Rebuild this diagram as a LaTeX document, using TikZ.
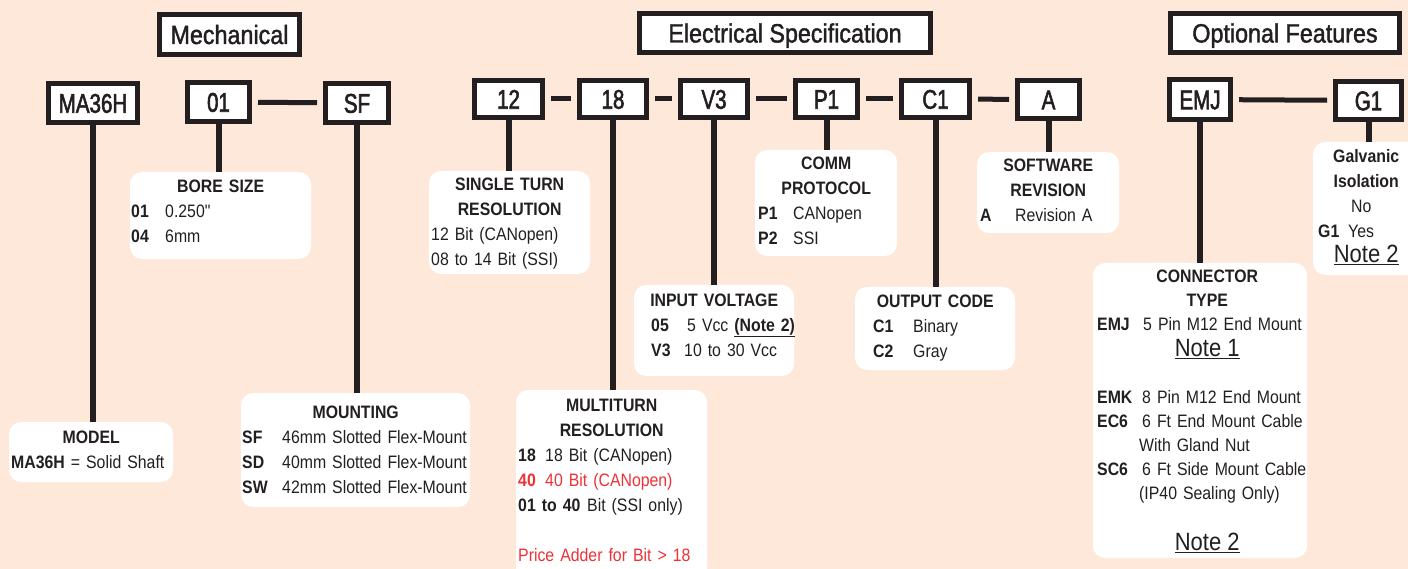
\documentclass[tikz,border=0pt]{standalone}
\usepackage{fontspec}
\setmainfont{Liberation Sans}[FakeStretch=0.88]
\newfontfamily\codefont{Liberation Sans}[FakeStretch=0.76, RawFeature={embolden=2}]
\newfontfamily\headfont{Liberation Sans}[FakeStretch=0.88, RawFeature={embolden=1.5}]
\newfontfamily\plainfont{Liberation Sans}[FakeStretch=0.88]

\definecolor{bg}{RGB}{254,232,218}
\definecolor{ink}{RGB}{35,31,32}
\definecolor{redtxt}{RGB}{237,50,55}

\newcommand\ttl[1]{\makebox[\linewidth]{\bfseries #1}}
\newcommand\itm[3]{\mbox{\makebox[#1][l]{\bfseries #2}#3}}
\newcommand\note[1]{\makebox[\linewidth]{\fontsize{25}{25}\selectfont\underline{#1}}}

\tikzset{
  head/.style={draw=ink, line width=5pt, fill=white, inner sep=0pt,
    text height=19pt, text depth=0pt, font=\headfont\fontsize{26.5}{30}\selectfont},
  code/.style={draw=ink, line width=5pt, fill=white, inner sep=0pt,
    text height=19.5pt, text depth=0pt, font=\codefont\fontsize{27}{30}\selectfont},
  info/.style={fill=white, rounded corners=12pt, inner sep=0pt},
  infotext/.style={anchor=north west, inner sep=0pt, align=left,
    font=\fontsize{18}{25}\selectfont},
  link/.style={draw=ink, line width=6pt},
  joiner/.style={draw=ink, line width=5pt, shorten <=6pt, shorten >=6pt},
}

\begin{document}
\begin{tikzpicture}[x=1pt, y=-1pt, every node/.style={text=ink}]

\fill[bg] (0,0) rectangle (1408,569);
\useasboundingbox (0,0) rectangle (1408,569);
\clip (0,0) rectangle (1408,569);

% headers
\node (hmech) [head, minimum width=140, minimum height=40] at (229.5,34.5) {Mechanical};
\node (helec) [head, minimum width=291, minimum height=39] at (785,33) {Electrical Specification};
\node (hopt) [head, minimum width=229, minimum height=39] at (1285,33) {Optional Features};

% info boxes
\node (model) [info, minimum width=164, minimum height=60] at (91,452) {};
\node (bore) [info, minimum width=181, minimum height=87] at (220.5,215.5) {};
\node (mount) [info, minimum width=229, minimum height=114] at (355.5,450) {};
\node (single) [info, minimum width=161, minimum height=103] at (509.5,222.5) {};
\node (multi) [info, minimum width=191, minimum height=190] at (611.5,485) {};
\node (input) [info, minimum width=160, minimum height=91] at (714,330.5) {};
\node (comm) [info, minimum width=142, minimum height=106] at (826,203) {};
\node (output) [info, minimum width=160, minimum height=83] at (935,328.5) {};
\node (soft) [info, minimum width=142, minimum height=81] at (1048,192.5) {};
\node (conn) [info, minimum width=214, minimum height=295] at (1200,410.5) {};
\node (galv) [info, minimum width=106, minimum height=133] at (1366,208.5) {};

% code boxes
\node (ma36h) [code, minimum width=89, minimum height=39] at (93,103) {MA36H};
\node (b01) [code, minimum width=62, minimum height=39] at (218.5,102) {01};
\node (sf) [code, minimum width=63, minimum height=39] at (357,103) {SF};
\node (b12) [code, minimum width=68, minimum height=37] at (508.5,99) {12};
\node (b18) [code, minimum width=67, minimum height=37] at (613,99) {18};
\node (v3) [code, minimum width=67, minimum height=37] at (714,99) {V3};
\node (p1) [code, minimum width=62, minimum height=37] at (826.5,99) {P1};
\node (c1) [code, minimum width=68, minimum height=37] at (935.5,99) {C1};
\node (a) [code, minimum width=62, minimum height=38] at (1048.5,99.5) {A};
\node (emj) [code, minimum width=61, minimum height=40] at (1200,99.5) {EMJ};
\node (g1) [code, minimum width=66, minimum height=38] at (1368.5,100.5) {G1};

% joiners
\draw[joiner] (b01) -- (sf);
\draw[joiner] (b12) -- (b18);
\draw[joiner] (b18) -- (v3);
\draw[joiner] (v3) -- (p1);
\draw[joiner] (p1) -- (c1);
\draw[joiner] (c1) -- (a);
\draw[joiner] (emj) -- (g1);

% links
\draw[link] (ma36h.south) -- (ma36h.south |- model.north);
\draw[link] (b01.south) -- (b01.south |- bore.north);
\draw[link] (sf.south) -- (sf.south |- mount.north);
\draw[link] (b12.south) -- (b12.south |- single.north);
\draw[link] (b18.south) -- (b18.south |- multi.north);
\draw[link] (v3.south) -- (v3.south |- input.north);
\draw[link] (p1.south) -- (p1.south |- comm.north);
\draw[link] (c1.south) -- (c1.south |- output.north);
\draw[link] (a.south) -- (a.south |- soft.north);
\draw[link] (emj.south) -- (emj.south |- conn.north);
\draw[link] (g1.south) -- (g1.south |- galv.north);

% texts
\node (modeltxt) [infotext, text width=160] at (11,430.5)
  {\ttl{MODEL}\\ \textbf{MA36H} = Solid Shaft};
\node (boretxt) [infotext, text width=179] at (131,179.5)
  {\ttl{BORE SIZE}\\ \itm{34pt}{01}{0.250{\plainfont"}}\\ \itm{34pt}{04}{6mm}};
\node (mounttxt) [infotext, text width=227] at (242,405.5)
  {\ttl{MOUNTING}\\ \itm{40pt}{SF}{46mm Slotted Flex-Mount}\\
   \itm{40pt}{SD}{40mm Slotted Flex-Mount}\\ \itm{40pt}{SW}{42mm Slotted Flex-Mount}};
\node (singletxt) [infotext, text width=157] at (431,177.5)
  {\ttl{SINGLE TURN}\\ \ttl{RESOLUTION}\\ 12 Bit (CANopen)\\ 08 to 14 Bit (SSI)};
\node (multitxt) [infotext, text width=187] at (518,398.5)
  {\ttl{MULTITURN}\\ \ttl{RESOLUTION}\\ \itm{27pt}{18}{18 Bit (CANopen)}\\
   {\color{redtxt}\itm{27pt}{40}{40 Bit (CANopen)}}\\ \itm{69pt}{01 to 40}{Bit (SSI only)}\\[25pt]
   {\color{redtxt}Price Adder for Bit > 18}};
\node (inputtxt) [infotext, text width=126] at (651,293.5)
  {\ttl{INPUT VOLTAGE}\\ \itm{36pt}{05}{5 Vcc \underline{\textbf{(Note 2)}}}\\ \itm{33pt}{V3}{10 to 30 Vcc}};
\node (commtxt) [infotext, text width=136] at (758,156.5)
  {\ttl{COMM}\\ \ttl{PROTOCOL}\\ \itm{35pt}{P1}{CANopen}\\ \itm{35pt}{P2}{SSI}};
\node (outputtxt) [infotext, text width=124] at (873,294.5)
  {\ttl{OUTPUT CODE}\\ \itm{40pt}{C1}{Binary}\\ \itm{40pt}{C2}{Gray}};
\node (softtxt) [infotext, text width=136] at (980,158.5)
  {\ttl{SOFTWARE}\\ \ttl{REVISION}\\ \itm{35pt}{A}{Revision A}};
\node (conntxt) [infotext, text width=220, font=\fontsize{18}{24}\selectfont] at (1097,269.5)
  {\ttl{CONNECTOR}\\ \ttl{TYPE}\\ \itm{46pt}{EMJ}{5 Pin M12 End Mount}\\[2pt]
   \note{Note 1}\\[23.5pt]
   \itm{45pt}{EMK}{8 Pin M12 End Mount}\\ \itm{45pt}{EC6}{6 Ft End Mount Cable}\\
   \hspace*{42pt}With Gland Nut\\ \itm{45pt}{SC6}{6 Ft Side Mount Cable}\\
   \hspace*{42pt}(IP40 Sealing Only)\\[26.5pt]
   \note{Note 2}};
\node (galvtxt) [infotext, text width=96] at (1318,149.5)
  {\ttl{Galvanic}\\ \ttl{Isolation}\\ \makebox[\linewidth]{No\hspace*{10pt}}\\
   \itm{30pt}{G1}{Yes}\\ \note{Note 2}};

\end{tikzpicture}
\end{document}
